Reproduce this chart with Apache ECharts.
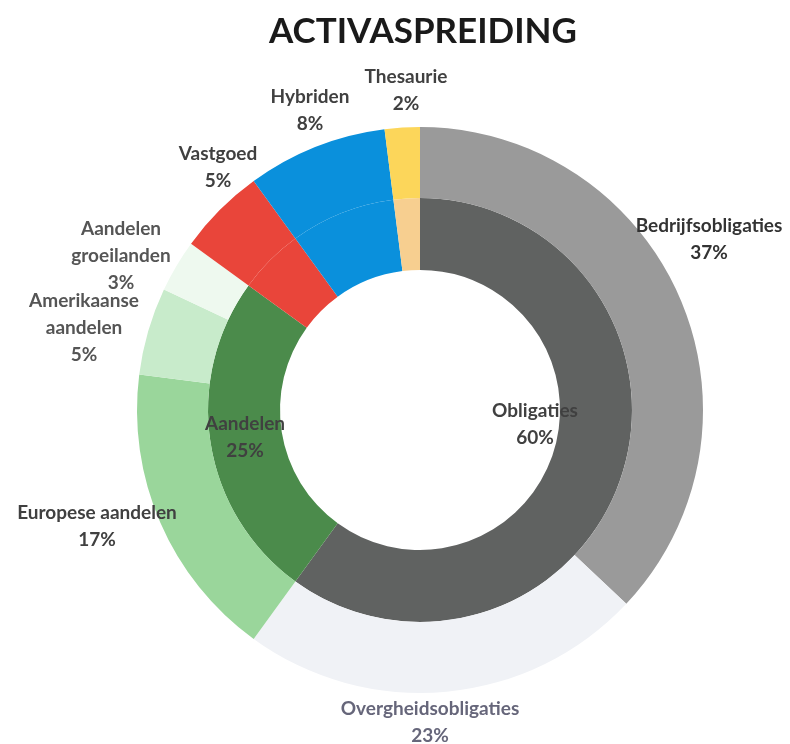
<!DOCTYPE html>
<html>
<head>
<meta charset="utf-8">
<title>Activaspreiding</title>
<script src="https://cdn.jsdelivr.net/npm/echarts@6/dist/echarts.min.js"></script>
<style>
  html, body { margin: 0; padding: 0; background: #fff; }
  #chart { width: 790px; height: 744px; }
</style>
</head>
<body>
<div id="chart"></div>
<script>
// binnenste ring: hoofdcategorieen
var innerNames = ['Obligaties', 'Aandelen', 'Vastgoed', 'Hybriden', 'Thesaurie'];
var innerValues = [60, 25, 5, 8, 2];
var innerColors = ['#606261', '#4b8b4b', '#e9453a', '#0a90dc', '#f7cf90'];

// buitenste ring: subcategorieen
var outerNames = ['Bedrijfsobligaties', 'Overgheidsobligaties', 'Europese aandelen', 'Amerikaanse aandelen',
                  'Aandelen groeilanden', 'Vastgoed', 'Hybriden', 'Thesaurie'];
var outerValues = [37, 23, 17, 5, 3, 5, 8, 2];
var outerColors = ['#9a9a9a', '#f0f2f6', '#9ad69b', '#c8ebcb', '#eef9ef', '#e9453a', '#0a90dc', '#fcd65a'];

// waar de labels staan (zoals handmatig geplaatst in het origineel)
var outerLabelPos = [[709, 239], [430, 722], [97, 526], [84, 328], [121, 256], [218, 167], [310, 110], [406, 90]];
var innerLabelPos = [[535, 424], [245, 437]];

var labelStyle = {
    fontFamily: 'Lato',
    fontSize: 19,
    fontWeight: 'bold',
    color: '#404040',
    lineHeight: 27,
    align: 'center',
    overflow: 'none'
};

function wrapName(name) {
    if (name === 'Amerikaanse aandelen') return 'Amerikaanse\naandelen';
    if (name === 'Aandelen groeilanden') return 'Aandelen\ngroeilanden';
    return name;
}

var chart = echarts.init(document.getElementById('chart'));

var option = {
    animation: false,
    title: {
        text: 'ACTIVASPREIDING',
        left: 418,
        textAlign: 'center',
        top: 9,
        textStyle: { fontFamily: 'Lato', fontSize: 35, fontWeight: 'bold', color: '#1a1a1a' }
    },
    series: [
        {
            type: 'pie',
            silent: true,
            center: [420, 410],
            radius: [140, 212],
            startAngle: 90,
            clockwise: true,
            label: Object.assign({ show: true, position: 'inside', formatter: '{b}\n{c}%' }, labelStyle),
            labelLine: { show: false },
            labelLayout: function (p) {
                var pos = innerLabelPos[p.dataIndex];
                if (!pos) return {};
                return { x: pos[0], y: pos[1], align: 'center', verticalAlign: 'middle' };
            },
            data: innerNames.map(function (n, i) {
                return {
                    name: n,
                    value: innerValues[i],
                    itemStyle: { color: innerColors[i] },
                    label: { show: i < 2 }
                };
            })
        },
        {
            type: 'pie',
            silent: true,
            center: [420, 410],
            radius: [212, 283],
            startAngle: 90,
            clockwise: true,
            label: Object.assign({
                show: true,
                position: 'outside',
                formatter: function (p) { return wrapName(p.name) + '\n' + p.value + '%'; }
            }, labelStyle),
            labelLine: { show: false },
            labelLayout: function (p) {
                var pos = outerLabelPos[p.dataIndex];
                return { x: pos[0], y: pos[1], align: 'center', verticalAlign: 'middle' };
            },
            data: outerNames.map(function (n, i) {
                var d = { name: n, value: outerValues[i], itemStyle: { color: outerColors[i] } };
                if (i === 0) d.label = { color: '#333333' };
                if (i === 1) d.label = { color: '#66667a' };
                if (i === 3 || i === 4) d.label = { color: '#555555' };
                return d;
            })
        }
    ]
};

chart.setOption(option);
</script>
</body>
</html>
